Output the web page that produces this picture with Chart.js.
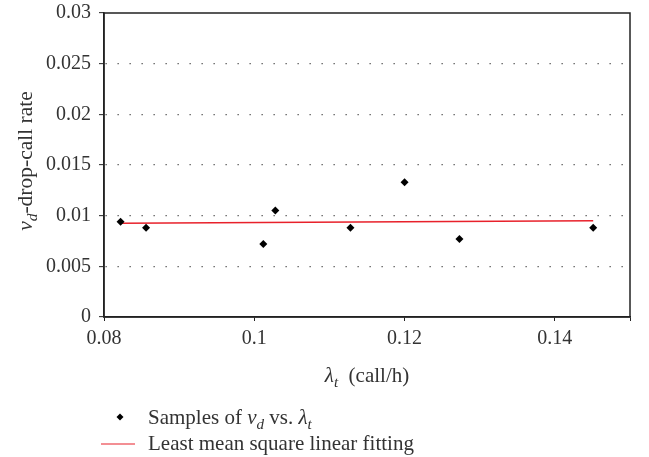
<!DOCTYPE html>
<html>
<head>
<meta charset="utf-8">
<script src="https://cdn.jsdelivr.net/npm/chart.js@4.4.1/dist/chart.umd.min.js"></script>
<style>
  html, body { margin: 0; padding: 0; background: #fff; }
  #wrap { width: 649px; height: 457px; }
</style>
</head>
<body>
<div id="wrap"><canvas id="chart" width="649" height="457"></canvas></div>
<script>
// samples
const sampleX = [0.0822, 0.0856, 0.1012, 0.1028, 0.1128, 0.1200, 0.1273, 0.1451];
const sampleY = [0.0094, 0.0088, 0.0072, 0.0105, 0.0088, 0.0133, 0.0077, 0.0088];
// end points of the fitted line
const fitX = [0.0822, 0.1451];
const fitY = [0.00925, 0.0095];
const xTicks = [0.08, 0.1, 0.12, 0.14, 0.15];
const yTicks = [0, 0.005, 0.01, 0.015, 0.02, 0.025, 0.03];

const FONT = '"Liberation Serif", "DejaVu Serif", serif';
const TEXT = '#333';

Chart.defaults.font.family = FONT;
Chart.defaults.font.size = 20;
Chart.defaults.color = TEXT;

function fmt(v) {
    return String(+v.toFixed(4));
}

// draw a line of text made of pieces, some italic, some subscript
function drawRich(ctx, segs, x, y, size, align) {
    const fontOf = s => (s.it ? 'italic ' : '') + (s.sub ? size * 0.72 : size) + 'px ' + FONT;
    let total = 0;
    segs.forEach(s => { ctx.font = fontOf(s); total += ctx.measureText(s.t).width; });
    let cx = align === 'center' ? x - total / 2 : x;
    ctx.textAlign = 'left';
    ctx.textBaseline = 'alphabetic';
    segs.forEach(s => {
        ctx.font = fontOf(s);
        ctx.fillText(s.t, cx, y + (s.sub ? size * 0.22 : 0));
        cx += ctx.measureText(s.t).width;
    });
}

const extras = {
    id: 'extras',
    afterDraw(chart) {
        const ctx = chart.ctx;
        const a = chart.chartArea;
        ctx.save();
        // frame round the plot
        ctx.strokeStyle = '#222';
        ctx.lineWidth = 1.5;
        ctx.strokeRect(a.left, a.top, a.right - a.left, a.bottom - a.top);

        ctx.fillStyle = TEXT;
        // x title
        drawRich(ctx, [{t: 'λ', it: true}, {t: 't', it: true, sub: true}, {t: '  (call/h)'}],
            (a.left + a.right) / 2, 382, 21, 'center');
        // y title
        ctx.save();
        ctx.translate(32, 161);
        ctx.rotate(-Math.PI / 2);
        drawRich(ctx, [{t: 'ν', it: true}, {t: 'd', it: true, sub: true}, {t: '-drop-call rate'}],
            0, 0, 21.5, 'center');
        ctx.restore();

        // legend
        ctx.fillStyle = '#000';
        ctx.beginPath();
        ctx.moveTo(120, 413.5); ctx.lineTo(123.5, 417); ctx.lineTo(120, 420.5); ctx.lineTo(116.5, 417);
        ctx.closePath();
        ctx.fill();
        ctx.fillStyle = TEXT;
        drawRich(ctx, [{t: 'Samples of '}, {t: 'ν', it: true}, {t: 'd', it: true, sub: true},
            {t: ' vs. '}, {t: 'λ', it: true}, {t: 't', it: true, sub: true}], 148, 424, 21);
        ctx.strokeStyle = '#e8212b';
        ctx.lineWidth = 1.2;
        ctx.beginPath();
        ctx.moveTo(101, 444); ctx.lineTo(135, 444);
        ctx.stroke();
        drawRich(ctx, [{t: 'Least mean square linear fitting'}], 148, 450, 21);
        ctx.restore();
    }
};

const ctx = document.getElementById('chart').getContext('2d');
new Chart(ctx, {
    type: 'scatter',
    data: {
        datasets: [{
            label: 'Samples',
            data: sampleX.map((x, i) => ({x: x, y: sampleY[i]})),
            pointStyle: 'rectRot',
            pointRadius: 4,
            backgroundColor: '#000',
            borderColor: '#000',
            borderWidth: 0
        }, {
            type: 'line',
            label: 'Fit',
            data: fitX.map((x, i) => ({x: x, y: fitY[i]})),
            borderColor: '#e8212b',
            borderWidth: 1.3,
            pointRadius: 0,
            fill: false
        }]
    },
    options: {
        responsive: false,
        animation: false,
        events: [],
        layout: { padding: { top: 13, right: 19, bottom: 110, left: 0 } },
        plugins: { legend: { display: false }, tooltip: { enabled: false } },
        scales: {
            x: {
                type: 'linear',
                min: 0.08,
                max: 0.15,
                afterBuildTicks: s => { s.ticks = xTicks.map(v => ({value: v})); },
                afterFit: s => { s.height = 30; s.paddingLeft = 0; s.paddingRight = 0; },
                ticks: {
                    padding: 6,
                    maxRotation: 0,
                    callback: v => v >= 0.149 ? '' : fmt(v)
                },
                grid: {
                    drawOnChartArea: false,
                    tickLength: 4,
                    tickColor: '#222',
                    tickWidth: 1
                },
                border: { color: '#222', width: 1.5 }
            },
            y: {
                min: 0,
                max: 0.03,
                afterBuildTicks: s => { s.ticks = yTicks.map(v => ({value: v})); },
                afterFit: s => { s.width = 104; s.paddingTop = 0; s.paddingBottom = 0; },
                ticks: {
                    padding: 8,
                    callback: v => fmt(v)
                },
                grid: {
                    color: c => (c.tick && c.tick.value > 0.0001 && c.tick.value < 0.0299) ? '#555' : 'rgba(0,0,0,0)',
                    lineWidth: 1.3,
                    tickLength: 5,
                    tickColor: '#222',
                    tickWidth: 1
                },
                border: { color: '#222', width: 1.5, dash: [1.3, 10.7], dashOffset: -1 }
            }
        }
    },
    plugins: [extras]
});
</script>
</body>
</html>
